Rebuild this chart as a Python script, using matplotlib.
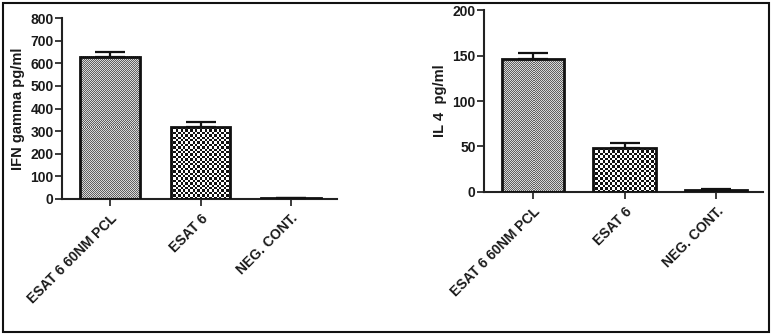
import numpy as np
import matplotlib
matplotlib.use("Agg")
import matplotlib.pyplot as plt
from matplotlib.patches import Rectangle

plt.rcParams["font.family"] = ["Liberation Sans", "DejaVu Sans"]
plt.rcParams["font.weight"] = "bold"

groups = ["ESAT 6 60NM PCL", "ESAT 6", "NEG. CONT."]

ifn_mean = [630, 318, 3]
ifn_sem = [22, 23, 1]

il4_mean = [146, 48, 2]
il4_sem = [7, 6, 1]

# checker textures: (cell size in px, dark, light)
textures = [(1.0, "#606060", "#d8d8d8"), (2.4, "#111111", "#ffffff"), (1.0, "#333333", "#bbbbbb")]


def checker_fill(ax, bar, cell, dark, light):
    x0, y0 = bar.get_x(), bar.get_y()
    x1, y1 = x0 + bar.get_width(), y0 + bar.get_height()
    (px0, py0), (px1, py1) = ax.transData.transform([(x0, y0), (x1, y1)])
    nx = max(1, int(round(abs(px1 - px0) / cell)))
    ny = max(1, int(round(abs(py1 - py0) / cell)))
    grid = (np.indices((ny, nx)).sum(axis=0) % 2).astype(float)
    cmap = matplotlib.colors.ListedColormap([dark, light])
    ax.imshow(grid, extent=(x0, x1, y0, y1), cmap=cmap, interpolation="nearest",
              aspect="auto", zorder=2, origin="lower")


def panel(ax, means, sems, ylabel, ymax, ystep, width):
    x = np.arange(len(groups))
    ax.set_xlim(-0.535, 2.51)
    ax.set_ylim(0, ymax)
    bars = ax.bar(x, means, width=width, facecolor="none", edgecolor="#111111",
                  linewidth=2.0, zorder=3)
    ax.errorbar(x, means, yerr=[np.zeros(len(sems)), sems], fmt="none",
                ecolor="#111111", elinewidth=1.6, capsize=11, capthick=1.6, zorder=4)
    for bar, (cell, dark, light) in zip(bars, textures):
        checker_fill(ax, bar, cell, dark, light)
    ax.set_xlim(-0.535, 2.51)
    ax.set_ylim(0, ymax)
    ax.set_yticks(np.arange(0, ymax + 1, ystep))
    ax.set_xticks(x)
    ax.set_xticklabels(groups, rotation=45, ha="right", rotation_mode="anchor",
                       fontsize=10, fontweight="bold", color="#1a1a1a")
    ax.set_ylabel(ylabel, fontsize=10.5, fontweight="bold", color="#1a1a1a", labelpad=4)
    ax.tick_params(axis="y", labelsize=10, colors="#1a1a1a", length=5, width=1.2, pad=1)
    ax.tick_params(axis="x", length=5, width=1.2, pad=4, colors="#1a1a1a")
    for lab in ax.get_yticklabels():
        lab.set_fontweight("bold")
    for side in ("top", "right"):
        ax.spines[side].set_visible(False)
    for side in ("left", "bottom"):
        ax.spines[side].set_linewidth(1.5)
        ax.spines[side].set_color("#222222")


fig = plt.figure(figsize=(7.72, 3.35), dpi=100)

ax1 = fig.add_axes([0.0803, 0.406, 0.356, 0.540])
panel(ax1, ifn_mean, ifn_sem, "IFN gamma pg/ml", 800, 100, 0.66)

ax2 = fig.add_axes([0.627, 0.427, 0.361, 0.543])
panel(ax2, il4_mean, il4_sem, "IL 4  pg/ml", 200, 50, 0.68)

# outer frame
fig.patches.append(Rectangle((3 / 772, 3 / 335), 766 / 772, 329 / 335, transform=fig.transFigure,
                             fill=False, edgecolor="#111111", linewidth=1.5))

fig.savefig("out.png", dpi=100)
